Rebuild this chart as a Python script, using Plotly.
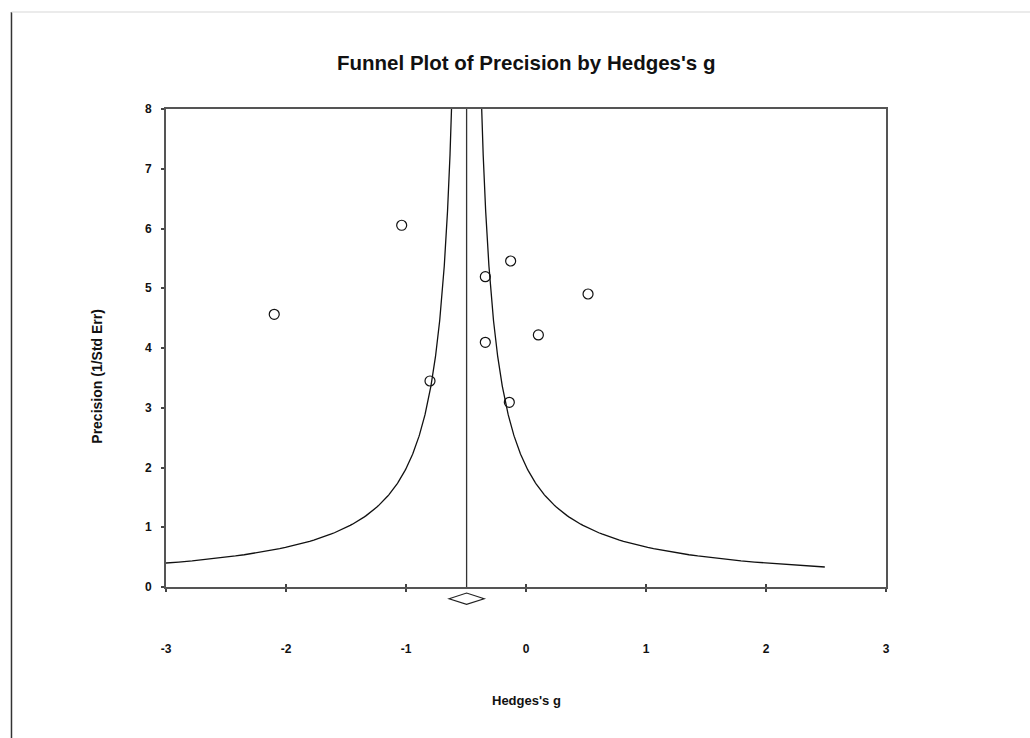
import numpy as np
import plotly.graph_objects as go

# Study effect sizes (Hedges's g) and their precision (1/SE)
hedges_g = [-2.098, -1.036, -0.800, -0.339, -0.339, -0.128, -0.139, 0.103, 0.517]
precision = [4.564, 6.054, 3.448, 5.193, 4.095, 5.456, 3.091, 4.218, 4.904]

# Pooled estimate and its half-width shown by the summary diamond
pooled_g = -0.495
pooled_half_width = 0.146

x_ticks = [-3, -2, -1, 0, 1, 2, 3]
x_tick_labels = ["-3", "-2", "-1", "0", "1", "2", "3"]
y_ticks = [0, 1, 2, 3, 4, 5, 6, 7, 8]

# Funnel limits: pooled +/- 1/precision
funnel_prec = np.linspace(0.335, 8.5, 400)
left_limit = pooled_g - 1.0 / funnel_prec
right_limit = pooled_g + 1.0 / funnel_prec

FONT = "Liberation Sans, Arial, sans-serif"

fig = go.Figure()

fig.add_trace(go.Scatter(x=left_limit, y=funnel_prec, mode="lines",
                         line=dict(color="#111", width=1.3), hoverinfo="skip"))
fig.add_trace(go.Scatter(x=right_limit, y=funnel_prec, mode="lines",
                         line=dict(color="#111", width=1.3), hoverinfo="skip"))
fig.add_trace(go.Scatter(x=[pooled_g, pooled_g], y=[0, 8], mode="lines",
                         line=dict(color="#333", width=1.3), hoverinfo="skip"))
fig.add_trace(go.Scatter(x=hedges_g, y=precision, mode="markers",
                         marker=dict(symbol="circle-open", size=10,
                                     color="#111", line=dict(width=1.2))))

# Summary diamond below the axis
yc, hh = -0.0245, 0.0119
fig.add_shape(type="path", xref="x", yref="paper",
              path=(f"M {pooled_g - pooled_half_width} {yc} "
                    f"L {pooled_g} {yc + hh} "
                    f"L {pooled_g + pooled_half_width} {yc} "
                    f"L {pooled_g} {yc - hh} Z"),
              line=dict(color="#222", width=1.2), fillcolor="white")

# Page border lines
fig.add_shape(type="line", xref="paper", yref="paper",
              x0=-0.2146, x1=-0.2146, y0=1.2029, y1=-0.33,
              line=dict(color="#333", width=1.5))
fig.add_shape(type="line", xref="paper", yref="paper",
              x0=-0.2146, x1=1.25, y0=1.2029, y1=1.2029,
              line=dict(color="#e4e4e4", width=1.5))

fig.update_layout(
    width=1030, height=738,
    margin=dict(l=166, r=144, t=109, b=151),
    paper_bgcolor="white", plot_bgcolor="white",
    showlegend=False,
    font=dict(family=FONT, color="#111"),
    xaxis=dict(range=[-3, 3], tickvals=x_ticks, ticktext=x_tick_labels,
               showgrid=False, zeroline=False,
               showline=True, linecolor="#555", linewidth=2, mirror=True,
               ticks="outside", ticklen=3, tickwidth=1.5, tickcolor="#444",
               tickfont=dict(size=12, family=FONT, weight="bold"),
               ticklabelstandoff=47),
    xaxis2=dict(range=[-3, 3], tickvals=x_ticks, overlaying="x", showgrid=False,
                zeroline=False, ticks="inside", ticklen=3, tickwidth=1.5,
                tickcolor="#444", showticklabels=False, matches="x"),
    yaxis=dict(range=[0, 8], tickvals=y_ticks, showgrid=False, zeroline=False,
               showline=True, linecolor="#555", linewidth=2, mirror=True,
               ticks="outside", ticklen=3, tickwidth=1.5, tickcolor="#444",
               tickfont=dict(size=12, family=FONT, weight="bold"),
               ticklabelstandoff=7),
    annotations=[
        dict(text="<b>Funnel Plot of Precision by Hedges's g</b>", xref="paper",
             yref="paper", x=0.5, y=1.098, xanchor="center", yanchor="middle",
             showarrow=False, font=dict(size=20.5, family=FONT, color="#111")),
        dict(text="<b>Hedges's g</b>", xref="paper", yref="paper", x=0.5,
             y=-0.237, xanchor="center", yanchor="middle", showarrow=False,
             font=dict(size=13, family=FONT, color="#111")),
        dict(text="<b>Precision (1/Std Err)</b>", xref="paper", yref="paper",
             x=-0.0958, y=0.44, xanchor="center", yanchor="middle",
             textangle=-90, showarrow=False,
             font=dict(size=14, family=FONT, color="#111")),
    ],
)

# Invisible trace to place the inner tick marks on the overlaying axis
fig.add_trace(go.Scatter(x=[0], y=[0], xaxis="x2", mode="markers",
                         marker=dict(opacity=0), hoverinfo="skip"))

fig.write_html("out.html")
